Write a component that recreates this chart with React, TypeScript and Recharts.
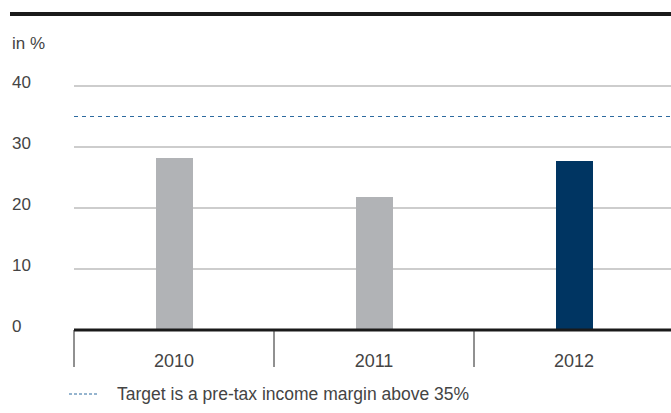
import { BarChart, Bar, XAxis, YAxis, CartesianGrid, ReferenceLine, Cell } from "recharts"

// ── Data ─────────────────────────────────────────────────────────────────────
const YEARS = ["2010", "2011", "2012"]
const MARGIN_PCT = [28.2, 21.8, 27.7]
const Y_TICKS = [0, 10, 20, 30, 40]
const TARGET = 35
const BAR_COLORS = ["#b1b3b6", "#b1b3b6", "#003562"]

const data = YEARS.map((year, i) => ({ year, value: MARGIN_PCT[i] }))

// ── Layout ───────────────────────────────────────────────────────────────────
const CHART_W = 680
const CHART_H = 413
const Y_AXIS_W = 74
const PLOT_W = 600
const BAND = PLOT_W / YEARS.length
const FONT = "'Liberation Sans', Arial, Helvetica, sans-serif"
const TEXT = "#444"

function YTick({ y, payload }: any) {
  return (
    <text x={12} y={y + 1.5} fill={TEXT} fontSize={17} fontFamily={FONT} textAnchor="start">
      {payload.value}
    </text>
  )
}

function XTick({ x, y, payload }: any) {
  return (
    <g>
      <line x1={x - BAND / 2} y1={y} x2={x - BAND / 2} y2={y + 37} stroke="#222" strokeWidth={1} />
      <text x={x} y={y + 37} fill={TEXT} fontSize={18} fontFamily={FONT} textAnchor="middle">
        {payload.value}
      </text>
    </g>
  )
}

export default function App() {
  return (
    <div
      style={{
        position: "absolute",
        left: 0,
        top: 0,
        width: 671,
        height: 413,
        overflow: "hidden",
        background: "#fff",
        fontFamily: FONT,
      }}
    >
      <div style={{ position: "absolute", left: 10, top: 12, width: 661, height: 4, background: "#1a1a1a" }} />
      <div style={{ position: "absolute", left: 12, top: 34, fontSize: 17, color: TEXT, lineHeight: "20px" }}>in %</div>

      <BarChart
        width={CHART_W}
        height={CHART_H}
        data={data}
        margin={{ top: 86, right: CHART_W - Y_AXIS_W - PLOT_W, left: 0, bottom: 0 }}
        barSize={37}
      >
        <CartesianGrid horizontal vertical={false} stroke="#bdbdbd" strokeWidth={1.5} />
        <XAxis
          dataKey="year"
          height={83}
          axisLine={false}
          tickLine={false}
          tickSize={0}
          tickMargin={0}
          interval={0}
          tick={<XTick />}
        />
        <YAxis
          width={Y_AXIS_W}
          domain={[0, 40]}
          ticks={Y_TICKS}
          axisLine={false}
          tickLine={false}
          tick={<YTick />}
        />
        <ReferenceLine y={TARGET} stroke="#2d6a9f" strokeWidth={1.2} strokeDasharray="4 4" />
        <Bar dataKey="value" isAnimationActive={false}>
          {data.map((_, i) => (
            <Cell key={`cell-${i}`} fill={BAR_COLORS[i]} />
          ))}
        </Bar>
        <ReferenceLine y={0} stroke="#1a1a1a" strokeWidth={3} />
      </BarChart>

      <div
        style={{
          position: "absolute",
          left: 69,
          top: 384,
          display: "flex",
          alignItems: "center",
          fontSize: 17.5,
          lineHeight: "20px",
          color: TEXT,
        }}
      >
        <svg width={30} height={4} style={{ marginRight: 18 }}>
          <line x1={0} y1={2} x2={30} y2={2} stroke="#2d6a9f" strokeWidth={1} strokeDasharray="3 2" />
        </svg>
        <span>Target is a pre-tax income margin above 35%</span>
      </div>
    </div>
  )
}
